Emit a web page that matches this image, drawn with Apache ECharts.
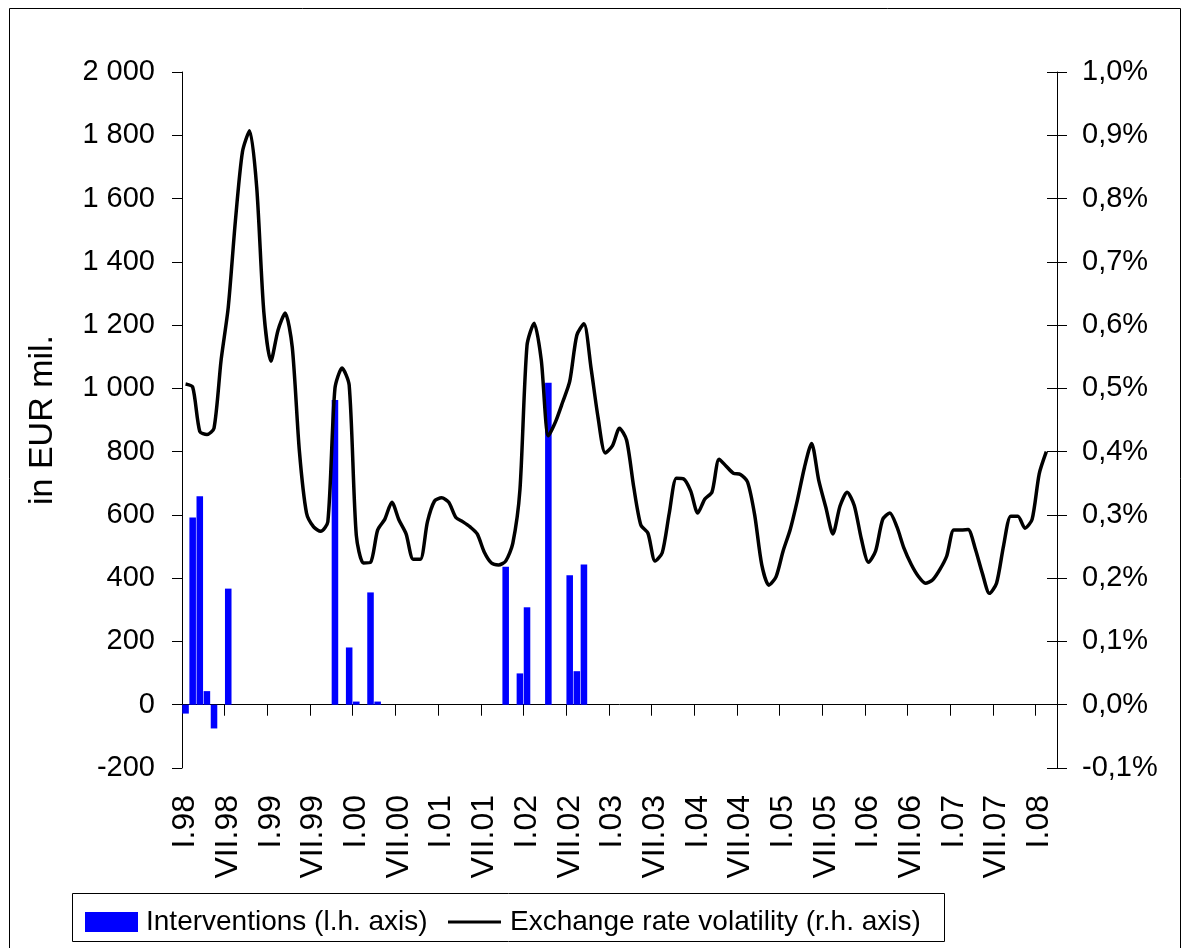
<!DOCTYPE html>
<html>
<head>
<meta charset="utf-8">
<script src="https://cdn.jsdelivr.net/npm/echarts@6/dist/echarts.min.js"></script>
<style>
html,body{margin:0;padding:0;background:#fff;}
#chart{width:1183px;height:948px;}
</style>
</head>
<body>
<div id="chart"></div>
<script>
// ---- data ----
const romanMonths = ['I','II','III','IV','V','VI','VII','VIII','IX','X','XI','XII'];
const yearSuffixes = ['98','99','00','01','02','03','04','05','06','07','08'];
const monthsIn2008 = 3;

// Interventions, EUR mil. (monthly, l.h. axis)
const interventions = [
  // 1998
  -28, 592, 659, 43, -75, null, 367, null, null, null, null, null,
  // 1999
  null, null, null, null, null, null, null, null, null, 963, null, 181,
  // 2000
  10, null, 355, 10, null, null, null, null, null, null, null, null,
  // 2001
  null, null, null, null, null, null, null, null, null, 436, null, 99,
  // 2002
  308, null, null, 1018, null, null, 409, 106, 443, null, null, null,
  // 2003
  null, null, null, null, null, null, null, null, null, null, null, null,
  // 2004
  null, null, null, null, null, null, null, null, null, null, null, null,
  // 2005
  null, null, null, null, null, null, null, null, null, null, null, null,
  // 2006
  null, null, null, null, null, null, null, null, null, null, null, null,
  // 2007
  null, null, null, null, null, null, null, null, null, null, null, null,
  // 2008
  null, null, null
];

// Exchange rate volatility, % (monthly, r.h. axis)
const volatility = [
  // 1998
  0.507, 0.502, 0.432, 0.427, 0.437, 0.545, 0.628, 0.764, 0.874, 0.907, 0.818, 0.621,
  // 1999
  0.543, 0.592, 0.619, 0.565, 0.401, 0.303, 0.281, 0.274, 0.289, 0.500, 0.532, 0.505,
  // 2000
  0.268, 0.224, 0.225, 0.276, 0.293, 0.320, 0.292, 0.270, 0.230, 0.230, 0.289, 0.322,
  // 2001
  0.327, 0.320, 0.296, 0.289, 0.281, 0.270, 0.241, 0.224, 0.221, 0.227, 0.255, 0.339,
  // 2002
  0.568, 0.603, 0.545, 0.425, 0.447, 0.478, 0.511, 0.584, 0.602, 0.532, 0.453, 0.398,
  // 2003
  0.409, 0.437, 0.418, 0.344, 0.284, 0.271, 0.227, 0.240, 0.303, 0.358, 0.357, 0.338,
  // 2004
  0.303, 0.325, 0.336, 0.388, 0.377, 0.366, 0.364, 0.352, 0.300, 0.221, 0.189, 0.202,
  // 2005
  0.243, 0.277, 0.323, 0.375, 0.413, 0.355, 0.312, 0.270, 0.314, 0.336, 0.315, 0.262,
  // 2006
  0.225, 0.243, 0.293, 0.303, 0.281, 0.247, 0.222, 0.203, 0.192, 0.197, 0.213, 0.235,
  // 2007
  0.276, 0.276, 0.277, 0.247, 0.208, 0.176, 0.192, 0.252, 0.298, 0.298, 0.279, 0.293,
  // 2008
  0.365, 0.400, null
];

const seriesNames = ['Interventions (l.h. axis)', 'Exchange rate volatility (r.h. axis)'];
const leftAxisName = 'in EUR mil.';

// categories "I.98", "II.98", ...
const categories = [];
yearSuffixes.forEach((y, yi) => {
  const n = (yi === yearSuffixes.length - 1) ? monthsIn2008 : 12;
  for (let m = 0; m < n; m++) categories.push(romanMonths[m] + '.' + y);
});

// ---- chart ----
const FONT = 'Liberation Sans, Arial, sans-serif';
const chart = echarts.init(document.getElementById('chart'), null, {renderer: 'canvas'});

function fmtLeft(v) {
  const s = String(Math.abs(v)).replace(/\B(?=(\d{3})+(?!\d))/g, ' ');
  return (v < 0 ? '-' : '') + s;
}
function fmtRight(v) {
  return (Math.round(v * 10) / 10).toFixed(1).replace('.', ',') + '%';
}

chart.setOption({
  animation: false,
  backgroundColor: '#ffffff',
  textStyle: {fontFamily: FONT, color: '#000'},
  grid: {left: 182, right: 126, top: 72, bottom: 180, containLabel: false},
  graphic: [
    {type: 'rect', shape: {x: 9.5, y: 8.5, width: 1171, height: 1000},
     style: {fill: 'transparent', stroke: '#000', lineWidth: 1}, silent: true, z: -1},
    {type: 'rect', shape: {x: 72.5, y: 893.5, width: 872, height: 48},
     style: {fill: '#fff', stroke: '#000', lineWidth: 1}, silent: true, z: 0}
  ],
  legend: [
    {
      left: 80, top: 903, itemWidth: 53, itemHeight: 20, itemGap: 0,
      icon: 'rect',
      data: [seriesNames[0]],
      textStyle: {fontSize: 28, color: '#000', fontFamily: FONT, padding: [0, 0, 0, 3]},
      selectedMode: false, z: 5
    },
    {
      left: 443, top: 903, itemWidth: 53, itemHeight: 3, itemGap: 0,
      icon: 'rect',
      data: [seriesNames[1]],
      textStyle: {fontSize: 28, color: '#000', fontFamily: FONT, padding: [0, 0, 0, 4]},
      selectedMode: false, z: 5
    }
  ],
  xAxis: {
    type: 'category',
    data: categories,
    boundaryGap: true,
    axisLine: {show: true, onZero: true, onZeroAxisIndex: 0, lineStyle: {color: '#000', width: 1}},
    axisTick: {show: true, interval: 5, length: 11, inside: false, lineStyle: {color: '#000'}},
    axisLabel: {interval: 5, rotate: 90, margin: 27, fontSize: 32, color: '#000', fontFamily: FONT},
    splitLine: {show: false}
  },
  yAxis: [
    {
      type: 'value', position: 'left', min: -200, max: 2000, interval: 200,
      axisLine: {show: true, lineStyle: {color: '#000'}},
      axisTick: {show: true, length: 10, lineStyle: {color: '#000'}},
      axisLabel: {formatter: fmtLeft, fontSize: 29, margin: 27, color: '#000', fontFamily: FONT},
      splitLine: {show: false},
      name: leftAxisName, nameLocation: 'middle', nameGap: 122, nameRotate: 90,
      nameTextStyle: {fontSize: 34, color: '#000', fontFamily: FONT}
    },
    {
      type: 'value', position: 'right', min: -0.1, max: 1.0, interval: 0.1,
      axisLine: {show: true, lineStyle: {color: '#000'}},
      axisTick: {show: true, length: 10, lineStyle: {color: '#000'}},
      axisLabel: {formatter: fmtRight, fontSize: 29, margin: 25, color: '#000', fontFamily: FONT},
      splitLine: {show: false}
    },
    {
      type: 'value', position: 'right', min: -0.1, max: 1.0, interval: 0.1,
      axisLine: {show: false},
      axisTick: {show: true, inside: true, length: 10, lineStyle: {color: '#000'}},
      axisLabel: {show: false},
      splitLine: {show: false}
    }
  ],
  series: [
    {
      name: seriesNames[0], type: 'bar', yAxisIndex: 0,
      data: interventions, barWidth: '92%',
      itemStyle: {color: '#0000ff'}, z: 2
    },
    {
      name: seriesNames[1], type: 'line', yAxisIndex: 1,
      data: volatility, symbol: 'none', smooth: 0.25,
      lineStyle: {color: '#000', width: 3.5},
      itemStyle: {color: '#000'}, z: 3
    }
  ]
});
</script>
</body>
</html>
